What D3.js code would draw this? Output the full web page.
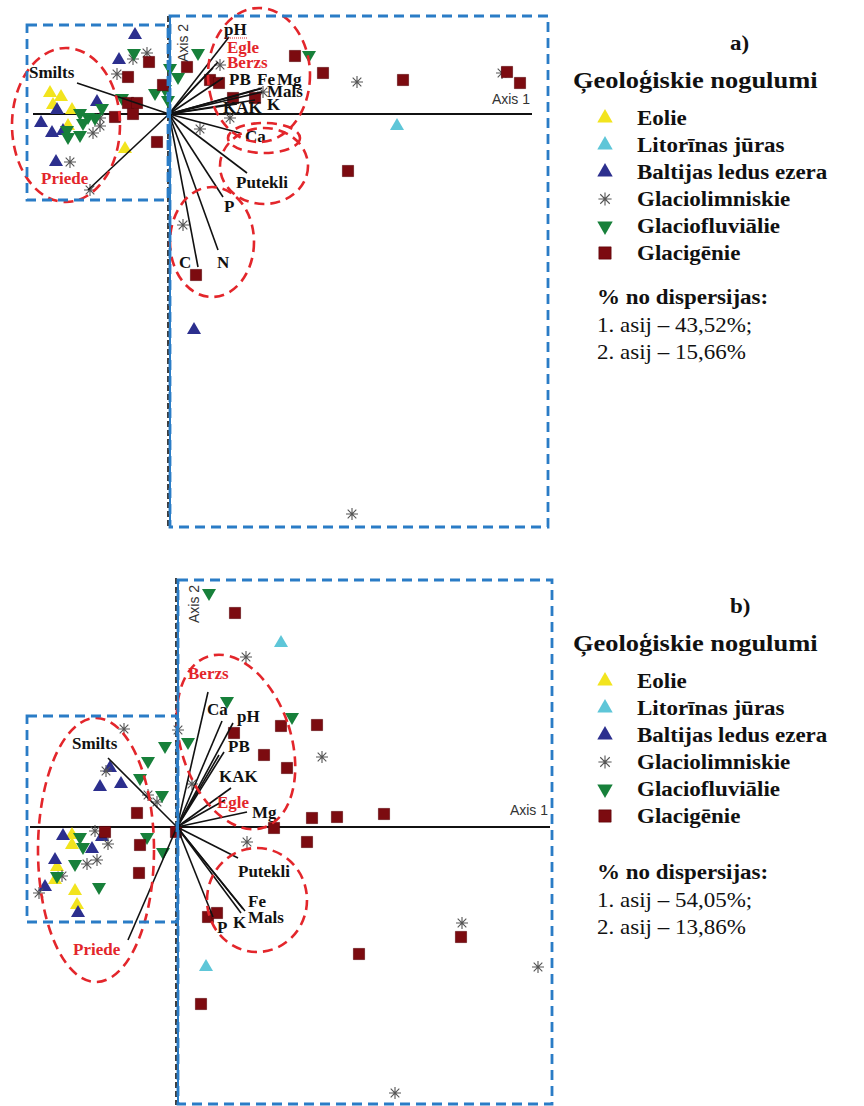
<!DOCTYPE html>
<html>
<head>
<meta charset="utf-8">
<script src="https://cdn.jsdelivr.net/npm/d3@7"></script>
<style>
  body { margin: 0; background: #fff; }
  svg { display: block; }
</style>
</head>
<body>
<svg id="chart" width="864" height="1106"></svg>
<script>
// ------------------------------------------------------------
// Data (ordination scores, 1 unit = 10 px)
// ------------------------------------------------------------
const groupNames = ["Eolie", "Litorīnas jūras", "Baltijas ledus ezera",
  "Glaciolimniskie", "Glaciofluviālie", "Glacigēnie"];
const groupKeys = ["eol", "lit", "bal", "lim", "flu", "gen"];

// panel a) samples
const eolieA = [[-11.9, 2.1], [-10.8, 1.7], [-11.6, 0.9], [-9.7, 0.4], [-4.4, -3.5], [-10.1, -1.2]];
const litorinasA = [[22.8, -1.2]];
const baltijasA = [[-3.4, 7.9], [-5.0, 5.4], [-7.2, 1.2], [-11.2, 0.4], [-12.8, -0.9],
  [-11.7, -1.9], [-10.6, -1.7], [-11.3, -4.8], [2.5, -21.6]];
const limnA = [[-2.2, 6.1], [-3.6, 5.5], [-5.2, 4.0], [5.1, 4.9], [6.1, -0.4], [3.1, -1.5],
  [-6.9, -1.2], [-7.6, -1.9], [-6.9, -0.4], [-9.9, -4.8], [-7.9, -7.6], [9.4, 2.2],
  [18.8, 3.2], [33.3, 4.1], [1.4, -11.1], [18.3, -40.0]];
const fluvA = [[-3.5, 6.1], [2.9, 6.1], [14.0, 5.9], [0.1, 4.6], [0.9, 3.7], [-1.4, 2.1],
  [-0.4, 2.5], [-0.1, 1.4], [-4.7, 1.6], [-6.7, 0.6], [-8.9, 0.1], [-8.1, -0.3],
  [-7.4, -0.4], [-10.1, -2.3], [-8.9, -2.1], [-8.6, -0.9], [-10.2, -1.6]];
const glacA = [[-2.0, 5.2], [-4.1, 3.7], [-0.6, 2.9], [1.8, 4.7], [-4.1, 1.1], [-3.2, 1.1],
  [-3.6, 0.0], [-5.4, -0.3], [-1.2, -2.8], [4.1, 3.4], [5.0, 3.1], [6.4, 1.6], [8.6, 1.6],
  [12.6, 5.8], [15.4, 4.1], [23.4, 3.4], [33.8, 4.2], [35.1, 3.1], [17.9, -5.7], [2.7, -16.1]];

// panel a) environmental / species vectors [name, x, y]
const vectorsA = [["Smilts", -9.2, 3.1], ["Priede", -8.1, -7.6], ["pH", 6.0, 7.7],
  ["Egle", 4.9, 5.2], ["Berzs", 4.4, 4.6], ["PB", 5.4, 3.6], ["Fe", 9.1, 2.5],
  ["Mg", 9.3, 2.6], ["Mals", 9.3, 2.2], ["K", 8.6, 1.4], ["KAK", 6.8, 1.0],
  ["Ca", 7.1, -1.9], ["Putekli", 7.8, -5.9], ["P", 5.4, -8.3], ["N", 4.9, -13.6],
  ["C", 2.9, -15.3]];

// panel b) samples
const eolieB = [[-10.5, -0.8], [-10.5, -1.8], [-12.0, -4.0], [-12.2, -5.3], [-10.2, -6.4], [-10.0, -7.8]];
const litorinasB = [[10.4, 18.4], [2.9, -14.0]];
const baltijasB = [[-6.7, 5.9], [-7.7, 4.0], [-5.6, 4.3], [-11.4, -0.9], [-7.5, -1.0],
  [-8.5, -2.2], [-12.2, -3.3], [-13.2, -6.0], [-9.9, -8.6]];
const limnB = [[6.9, 17.0], [14.5, 7.0], [0.1, 9.7], [-5.3, 9.8], [1.5, 4.3], [7.0, -1.5],
  [-2.9, 3.2], [-2.0, 2.5], [-7.1, 5.6], [-8.2, -0.4], [-6.9, -1.7], [-8.0, -3.3],
  [-9.0, -3.7], [-11.5, -4.9], [-13.8, -6.6], [28.5, -9.6], [36.1, -14.0], [21.8, -26.6]];
const fluvB = [[3.2, 23.4], [5.0, 12.6], [11.5, 11.0], [1.1, 8.5], [-1.2, 8.1], [-2.9, 6.6],
  [-3.7, 4.9], [-1.5, 3.2], [-9.7, -1.0], [-9.4, -2.0], [-3.0, -1.0], [-1.4, -2.5],
  [-10.2, -3.7], [-12.0, -4.9], [-7.8, -6.0]];
const glacB = [[5.8, 21.4], [5.7, 9.4], [10.4, 10.1], [14.0, 10.2], [8.7, 7.2], [11.0, 5.9],
  [13.5, 0.9], [16.0, 1.0], [20.7, 1.3], [9.7, -0.1], [13.0, -1.5], [3.1, -9.0], [4.0, -8.6],
  [2.4, -17.7], [18.2, -12.7], [28.4, -11.0], [-4.0, 1.4], [-7.2, -0.5], [-3.7, -1.8],
  [-3.8, -4.6], [-0.1, -0.5]];

// panel b) vectors
const vectorsB = [["Smilts", -6.9, 6.9], ["Priede", -4.9, -11.3], ["Ca", 3.1, 13.5],
  ["pH", 5.6, 10.4], ["Berzs", 4.5, 10.6], ["PB", 4.7, 7.5], ["PB2", 4.2, 7.2],
  ["KAK", 5.4, 3.9], ["Egle", 4.8, 2.7], ["Mg", 7.0, 1.5], ["Putekli", 6.1, -3.1],
  ["Fe", 6.6, -8.2], ["Mals", 6.8, -8.4], ["K", 6.4, -8.6], ["P", 3.6, -9.0]];

// explained variance (%), axis 1 and 2
const varianceA = ["43,52", "15,66"];
const varianceB = ["54,05", "13,86"];

// ------------------------------------------------------------
// Layout (label spots, ellipses, boxes) in the same units
// ------------------------------------------------------------
const speciesNames = ["Priede", "Egle", "Berzs"];

const labelsA = [["Smilts", -14.0, 3.6], ["Priede", -12.8, -7.0], ["pH", 5.5, 7.9],
  ["Egle", 5.8, 6.1], ["Berzs", 5.8, 4.6], ["PB", 6.0, 2.9], ["Fe", 8.8, 2.9],
  ["Mg", 10.8, 2.9], ["Mals", 9.8, 1.7], ["KAK", 5.4, 0.1], ["K", 9.8, 0.4],
  ["Ca", 7.6, -2.8], ["Putekli", 6.7, -7.4], ["P", 5.5, -9.8], ["N", 4.8, -15.4],
  ["C", 1.0, -15.4]];
const labelsB = [["Smilts", -10.5, 7.8], ["Priede", -10.4, -12.8], ["Berzs", 1.1, 14.8],
  ["Ca", 3.0, 11.2], ["pH", 6.0, 10.5], ["PB", 5.1, 7.5], ["KAK", 4.2, 4.5],
  ["Egle", 4.0, 1.9], ["Mg", 7.5, 0.9], ["Putekli", 6.1, -5.0], ["Fe", 7.1, -8.0],
  ["Mals", 7.1, -9.6], ["K", 5.6, -10.1], ["P", 4.0, -10.6]];

// [cx, cy, rx, ry, rotation]
const ellipsesA = [[-10.3, -1.1, 5.4, 7.7, 0], [9.0, 3.9, 5.1, 6.7, 0], [9.5, -2.4, 3.6, 1.5, 0],
  [9.5, -5.2, 4.4, 3.8, 0], [4.3, -12.8, 4.2, 5.5, 0]];
const ellipsesB = [[-8.1, -2.3, 5.8, 13.2, 0], [5.9, 8.5, 5.5, 9.0, -18], [8.0, -7.3, 5.0, 5.2, 0]];

const colors = { eol: "#f2e41e", lit: "#5ec6d8", bal: "#2c2f8e", lim: "#555555", flu: "#17803a", gen: "#7c0b10" };
const blue = "#2a7cc6";
const red = "#e3262b";

const panels = [
  {
    tag: "a)", ox: 169, oy: 114,
    samples: [eolieA, litorinasA, baltijasA, limnA, fluvA, glacA],
    vectors: vectorsA, labels: labelsA, ellipses: ellipsesA, variance: varianceA,
    leftBox: [-14.2, -0.1, 8.9, -8.6], bigBox: [0.1, 37.9, 9.8, -41.3],
    hAxis: [-13.6, 36.3], vAxis: [9.8, -41.4],
    axis2: [1.4, 7.1], axis1: [36.1, 1.0],
    legendTop: 0, dispTop: 0, underline: true
  },
  {
    tag: "b)", ox: 177, oy: 827,
    samples: [eolieB, litorinasB, baltijasB, limnB, fluvB, glacB],
    vectors: vectorsB, labels: labelsB, ellipses: ellipsesB, variance: varianceB,
    leftBox: [-15.0, 0.0, 11.1, -9.5], bigBox: [0.1, 37.5, 24.7, -27.7],
    hAxis: [-14.7, 37.3], vAxis: [24.9, -27.8],
    axis2: [1.7, 22.3], axis1: [37.1, 1.2],
    legendTop: 563, dispTop: 575, underline: false
  }
];

const svg = d3.select("#chart");

// ------------------------------------------------------------
// Marker helper
// ------------------------------------------------------------
function drawMarker(g, key, cx, cy, k) {
  const s = k || 1;
  if (key === "lim") {
    const r = 6 * s, d = r * 0.72;
    g.append("path")
      .attr("d", `M${cx - r},${cy}L${cx + r},${cy}M${cx},${cy - r}L${cx},${cy + r}` +
        `M${cx - d},${cy - d}L${cx + d},${cy + d}M${cx - d},${cy + d}L${cx + d},${cy - d}`)
      .attr("stroke", colors.lim)
      .attr("stroke-width", 1.1)
      .attr("fill", "none");
    return;
  }
  let type = d3.symbolTriangle, size = 85 * s * s, rot = 0;
  if (key === "gen") { type = d3.symbolSquare; size = 125 * s * s; }
  if (key === "flu") rot = 180;
  g.append("path")
    .attr("d", d3.symbol(type, size)())
    .attr("transform", `translate(${cx},${cy}) rotate(${rot})`)
    .attr("fill", colors[key])
    .attr("stroke", key === "gen" ? "#5a0408" : "none")
    .attr("stroke-width", 0.6);
}

function stretchText(g, x, y, str, size, weight) {
  return g.append("text")
    .attr("transform", `translate(${x},${y}) scale(1.15,1)`)
    .attr("font-family", "'Liberation Serif', 'Times New Roman', serif")
    .attr("font-size", size)
    .attr("font-weight", weight)
    .attr("fill", "#111")
    .text(str);
}

// ------------------------------------------------------------
// Draw one biplot + its legend
// ------------------------------------------------------------
function drawPanel(p) {
  const x = d3.scaleLinear().domain([-15, 40]).range([p.ox - 150, p.ox + 400]);
  const y = d3.scaleLinear().domain([-45, 25]).range([p.oy + 450, p.oy - 250]);
  const g = svg.append("g");

  // axes
  g.append("line")
    .attr("x1", x(p.hAxis[0])).attr("x2", x(p.hAxis[1]))
    .attr("y1", y(0)).attr("y2", y(0))
    .attr("stroke", "#111").attr("stroke-width", 2);
  g.append("line")
    .attr("x1", x(0) - 1).attr("x2", x(0) - 1)
    .attr("y1", y(p.vAxis[0])).attr("y2", y(p.vAxis[1]))
    .attr("stroke", "#111").attr("stroke-width", 1.6)
    .attr("stroke-dasharray", "6,3");

  g.append("text")
    .attr("transform", `translate(${x(p.axis2[0])},${y(p.axis2[1])}) rotate(-90)`)
    .attr("text-anchor", "middle")
    .attr("dominant-baseline", "central")
    .attr("font-family", "'Liberation Sans', Arial, sans-serif")
    .attr("font-size", 14)
    .attr("fill", "#333")
    .text("Axis 2");
  g.append("text")
    .attr("x", x(p.axis1[0])).attr("y", y(p.axis1[1]))
    .attr("text-anchor", "end")
    .attr("font-family", "'Liberation Sans', Arial, sans-serif")
    .attr("font-size", 14)
    .attr("fill", "#333")
    .text("Axis 1");

  // samples
  p.samples.forEach((pts, i) => {
    pts.forEach(d => drawMarker(g, groupKeys[i], x(d[0]), y(d[1])));
  });

  // vectors
  g.selectAll(".vec")
    .data(p.vectors)
    .join("line")
    .attr("x1", x(0)).attr("y1", y(0))
    .attr("x2", d => x(d[1])).attr("y2", d => y(d[2]))
    .attr("stroke", "#111")
    .attr("stroke-width", 1.6);

  // vector labels
  g.selectAll(".lab")
    .data(p.labels)
    .join("text")
    .attr("x", d => x(d[1])).attr("y", d => y(d[2]))
    .attr("font-family", "'Liberation Serif', 'Times New Roman', serif")
    .attr("font-size", 17)
    .attr("font-weight", "bold")
    .attr("fill", d => speciesNames.includes(d[0]) ? red : "#111")
    .text(d => d[0]);

  if (p.underline) {
    const u = p.labels.find(d => d[0] === "pH");
    g.append("line")
      .attr("x1", x(u[1])).attr("x2", x(u[1]) + 24)
      .attr("y1", y(u[2]) + 3).attr("y2", y(u[2]) + 3)
      .attr("stroke", red).attr("stroke-width", 1)
      .attr("stroke-dasharray", "1,1");
  }

  // red dashed ellipses
  g.selectAll(".ell")
    .data(p.ellipses)
    .join("ellipse")
    .attr("transform", d => `translate(${x(d[0])},${y(d[1])}) rotate(${d[4]})`)
    .attr("rx", d => x(d[2]) - x(0))
    .attr("ry", d => x(d[3]) - x(0))
    .attr("fill", "none")
    .attr("stroke", red)
    .attr("stroke-width", 2.6)
    .attr("stroke-dasharray", "10,6");

  // blue dashed frames
  [p.leftBox, p.bigBox].forEach(b => {
    g.append("rect")
      .attr("x", x(b[0])).attr("y", y(b[2]))
      .attr("width", x(b[1]) - x(b[0]))
      .attr("height", y(b[3]) - y(b[2]))
      .attr("fill", "none")
      .attr("stroke", blue)
      .attr("stroke-width", 2.8)
      .attr("stroke-dasharray", "10,6");
  });
  g.append("line")
    .attr("x1", x(p.bigBox[0])).attr("x2", x(p.bigBox[0]))
    .attr("y1", y(p.bigBox[2])).attr("y2", y(p.bigBox[3]))
    .attr("stroke", blue).attr("stroke-width", 2);

  // legend
  const lg = svg.append("g");
  const t = p.legendTop, dt = p.dispTop;
  stretchText(lg, 730, 50 + t, p.tag, 20, "bold");
  stretchText(lg, 573, 88 + t, "Ģeoloģiskie nogulumi", 23, "bold");
  groupNames.forEach((name, i) => {
    const cy = 118 + t + i * 27;
    drawMarker(lg, groupKeys[i], 605, cy, 1.1);
    stretchText(lg, 637, cy + 7, name, 20, "bold");
  });
  stretchText(lg, 597, 304 + dt, "% no dispersijas:", 20, "bold");
  stretchText(lg, 597, 332 + dt, `1. asij – ${p.variance[0]}%;`, 20, "normal");
  stretchText(lg, 597, 359 + dt, `2. asij – ${p.variance[1]}%`, 20, "normal");
}

panels.forEach(drawPanel);
</script>
</body>
</html>
